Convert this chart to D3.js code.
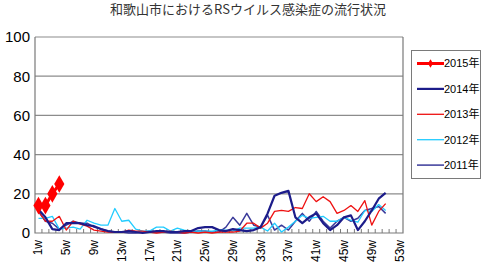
<!DOCTYPE html>
<html>
<head>
<meta charset="utf-8">
<script src="https://d3js.org/d3.v7.min.js"></script>
<style>
	body { margin: 0; background: white; }
	text { font-family: 'Liberation Sans', Arial, sans-serif; fill: black; }
	.title { font-family: 'Noto Sans CJK JP', sans-serif; font-size: 13px; fill: #333; }
	.legendText { font-family: 'Liberation Sans', 'Noto Sans CJK JP', sans-serif; font-size: 11px; }
</style>
</head>
<body>
<div id="chart"></div>
<script>
	// weeks on the axis and labelled weeks
	var weeks = d3.range(1, 54);
	var weekLabels = ["1w", "5w", "9w", "13w", "17w", "21w", "25w", "29w", "33w", "37w", "41w", "45w", "49w", "53w"];
	var yTicks = [0, 20, 40, 60, 80, 100];

	var seriesNames = ["2015年", "2014年", "2013年", "2012年", "2011年"];

	var v2015 = [14, 14, 20, 25];
	var v2014 = [12, 8, 2, 1.5, 5, 5, 5, 4, 3.5, 2, 1, 0.5, 0.5, 1, 0.5, 0, 0.5, 1, 1, 0.5,
		0.5, 1, 1, 2.5, 3, 3, 1.5, 1, 2, 1.5, 1, 1.5, 3, 10, 19, 20.5, 21.5, 8, 5, 8,
		10, 5, 1.5, 4, 8, 9, 1.5, 6, 11.5, 17.5, 20.5];
	var v2013 = [11, 6, 6, 8.5, 1.5, 6, 4.5, 3.5, 1.5, 1, 0.5, 0.3, 0.3, 1.5, 1, 1, 0.5, 0, 0.5, 1,
		0.5, 0, 0.5, 0, 0.5, 0, 0.5, 0.5, 0.5, 1, 5, 5, 2.5, 5, 11, 11.5, 11, 13, 12.5, 20,
		16, 18.5, 16, 10, 11.5, 14, 11, 16.5, 4, 11, 15];
	var v2012 = [7.5, 7.5, 8.5, 2, 2.5, 3, 2, 6.5, 5, 4, 4, 12.5, 6, 6.5, 2, 1, 1, 3, 3, 1,
		2.5, 1.5, 1, 1, 1, 1, 1.5, 1.5, 1, 2.5, 2.5, 2.5, 3, 1, 5, 0.5, 3, 6, 9, 7.5,
		8, 8.5, 6, 6, 8, 6.5, 5.5, 11.5, 11, 14.5, 11.5];
	var v2011 = [11, 6, 5, 2, 4, 6, 5, 5, 3, 2, 1, 0.5, 0.5, 0, 0, 0.5, 1, 0.5, 0.5, 0,
		0, 0, 0.5, 1, 1, 0.5, 0.5, 3, 8, 4, 10, 4, 3, 9, 1.5, 4, 1.5, 6, 10, 6,
		11, 6, 2.5, 6, 8, 6, 7.5, 11.5, 12.5, 13.5, 10];

	var seriesValues = [v2015, v2014, v2013, v2012, v2011];
	var seriesColors = ["#ff0000", "#1c1c8a", "#ee1111", "#22ccff", "#3a3a9a"];
	var seriesWidths = [3, 2.2, 1.3, 1.3, 1.5];

	var W = 484, H = 266;
	var plot = { left: 35, right: 403, top: 37, bottom: 233 };

	var svg = d3.select("#chart").append("svg")
		.attr("width", W)
		.attr("height", H);

	var x = d3.scaleBand().domain(weeks).range([plot.left, plot.right]).padding(0);
	var y = d3.scaleLinear().domain([0, 100]).range([plot.bottom, plot.top]);
	var cx = function (w) { return x(w) + x.bandwidth() / 2; };

	// title
	svg.append("text")
		.attr("class", "title")
		.attr("x", 248)
		.attr("y", 14)
		.attr("text-anchor", "middle")
		.text("和歌山市におけるRSウイルス感染症の流行状況");

	// grid lines
	svg.selectAll(".grid")
		.data(yTicks.filter(function (d) { return d > 0; }))
		.enter().append("line")
		.attr("x1", plot.left)
		.attr("x2", plot.right)
		.attr("y1", function (d) { return y(d); })
		.attr("y2", function (d) { return y(d); })
		.style("stroke", "#8c8c8c")
		.style("stroke-width", 1.2);

	// frame: left, right, bottom
	svg.append("path")
		.attr("d", "M" + plot.left + "," + plot.top + "V" + plot.bottom + "H" + plot.right + "V" + plot.top)
		.style("fill", "none")
		.style("stroke", "#7a7a7a")
		.style("stroke-width", 1.2);

	// small week ticks
	svg.selectAll(".tick")
		.data(weeks.slice(1))
		.enter().append("line")
		.attr("x1", function (d) { return x(d); })
		.attr("x2", function (d) { return x(d); })
		.attr("y1", plot.bottom)
		.attr("y2", plot.bottom - 4)
		.style("stroke", "#7a7a7a");

	// y labels
	svg.selectAll(".ylab")
		.data(yTicks)
		.enter().append("text")
		.attr("x", 30)
		.attr("y", function (d) { return y(d); })
		.attr("dy", "0.36em")
		.attr("text-anchor", "end")
		.style("font-size", "15px")
		.text(function (d) { return d; });

	// x labels, rotated
	svg.selectAll(".xlab")
		.data(weekLabels)
		.enter().append("text")
		.attr("transform", function (d) {
			return "translate(" + (cx(parseInt(d)) + 4) + "," + (plot.bottom + 7) + ") rotate(-90)";
		})
		.attr("text-anchor", "end")
		.style("font-size", "12px")
		.text(function (d) { return d; });

	// lines, oldest first so 2015 sits on top
	var line = d3.line()
		.x(function (d, i) { return cx(i + 1); })
		.y(function (d) { return y(d); });

	for (var k = seriesNames.length - 1; k >= 0; k--) {
		svg.append("path")
			.datum(seriesValues[k])
			.attr("d", line)
			.style("fill", "none")
			.style("stroke", seriesColors[k])
			.style("stroke-width", seriesWidths[k])
			.style("stroke-linejoin", "round");
	}

	// 2015 diamonds
	var diamond = d3.symbol().type(d3.symbolDiamond).size(90);
	svg.selectAll(".mark")
		.data(v2015)
		.enter().append("path")
		.attr("d", diamond)
		.attr("transform", function (d, i) { return "translate(" + cx(i + 1) + "," + y(d) + ")"; })
		.style("fill", "#ff0000");

	// legend
	var lg = svg.append("g").attr("transform", "translate(411,50)");
	lg.append("rect")
		.attr("x", 0.5).attr("y", 0.5)
		.attr("width", 69).attr("height", 128)
		.style("fill", "white")
		.style("stroke", "#7a7a7a");

	var items = lg.selectAll(".legends")
		.data(seriesNames)
		.enter().append("g")
		.attr("transform", function (d, i) { return "translate(0," + (13.5 + i * 25.4) + ")"; });

	items.append("line")
		.attr("x1", 6).attr("x2", 33)
		.style("stroke", function (d, i) { return seriesColors[i]; })
		.style("stroke-width", function (d, i) { return seriesWidths[i]; });

	items.filter(function (d, i) { return i == 0; })
		.append("path")
		.attr("d", d3.symbol().type(d3.symbolDiamond).size(22))
		.attr("transform", "translate(19.5,0)")
		.style("fill", "#ff0000");

	items.append("text")
		.attr("class", "legendText")
		.attr("x", 33)
		.attr("dy", "0.36em")
		.text(function (d) { return d; });
</script>
</body>
</html>
